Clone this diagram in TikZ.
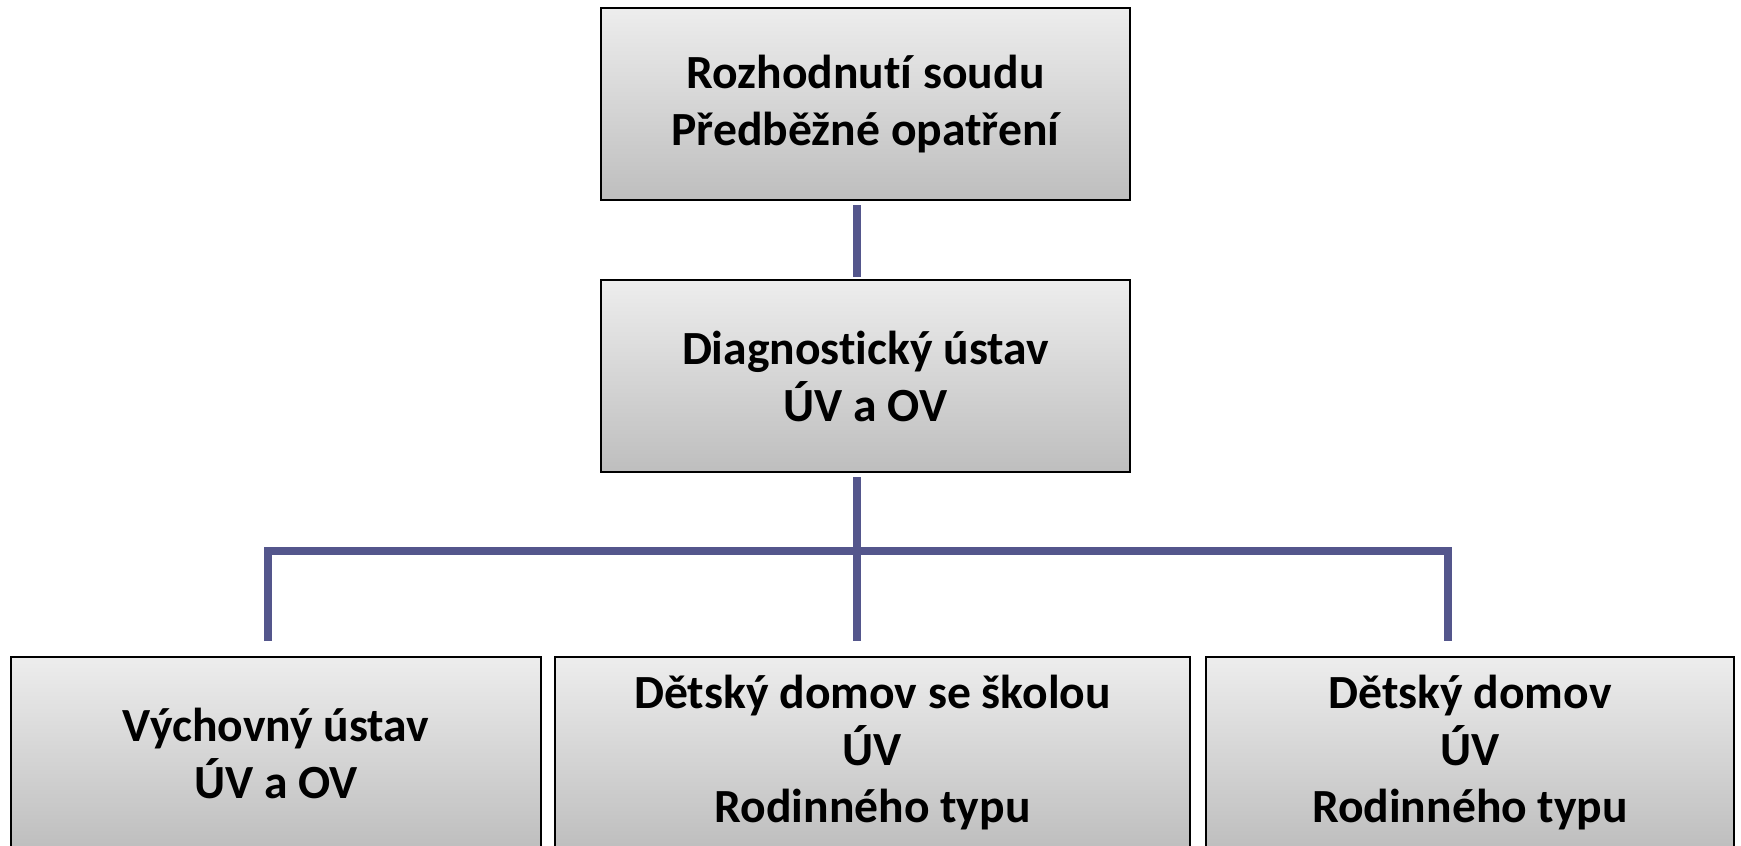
\documentclass[tikz,border=0pt]{standalone}
\usepackage{fontspec}
\setmainfont[Ligatures=NoCommon]{Carlito}
\usetikzlibrary{calc}
\definecolor{linkc}{RGB}{84,86,140}
\definecolor{boxtop}{RGB}{237,237,237}
\definecolor{boxbot}{RGB}{190,190,190}
\tikzset{
  orgbox/.style={draw=black, line width=1pt, rectangle, top color=boxtop, bottom color=boxbot,
    minimum height=96pt, align=center, inner sep=0pt,
    font=\fontsize{23.8}{28.5}\selectfont\bfseries},
  conn/.style={draw=linkc, line width=4.2pt}
}
\begin{document}
\begin{tikzpicture}[x=0.5pt,y=-0.5pt]
\useasboundingbox (0,0) rectangle (1741,846);
\clip (0,0) rectangle (1741,846);
\fill[white] (0,0) rectangle (1741,846);
\node[orgbox, minimum width=264.8pt] (top) at (865.5,104) {Rozhodnutí soudu\\Předběžné opatření};
\node[orgbox, minimum width=264.8pt] (mid) at (865.5,376) {Diagnostický ústav\\ÚV a OV};
\node[orgbox, minimum width=265pt] (b1) at (276,753) {Výchovný ústav\\ÚV a OV};
\node[orgbox, minimum width=317.5pt] (b2) at (872.5,753) {Dětský domov se školou\\ÚV\\Rodinného typu};
\node[orgbox, minimum width=264pt] (b3) at (1470,753) {Dětský domov\\ÚV\\Rodinného typu};
\coordinate (j) at (857,551);
\coordinate (l) at (268,551);
\coordinate (r) at (1448,551);
\draw[conn, shorten <=2pt, shorten >=1pt] (top.south -| j) -- (mid.north -| j);
\draw[conn, shorten <=2pt, shorten >=7.5pt] (mid.south -| j) -- (b2.north -| j);
\draw[conn, shorten <=7.5pt, shorten >=7.5pt] (l |- b1.north) -- (l) -- (r) -- (r |- b3.north);
\end{tikzpicture}
\end{document}
